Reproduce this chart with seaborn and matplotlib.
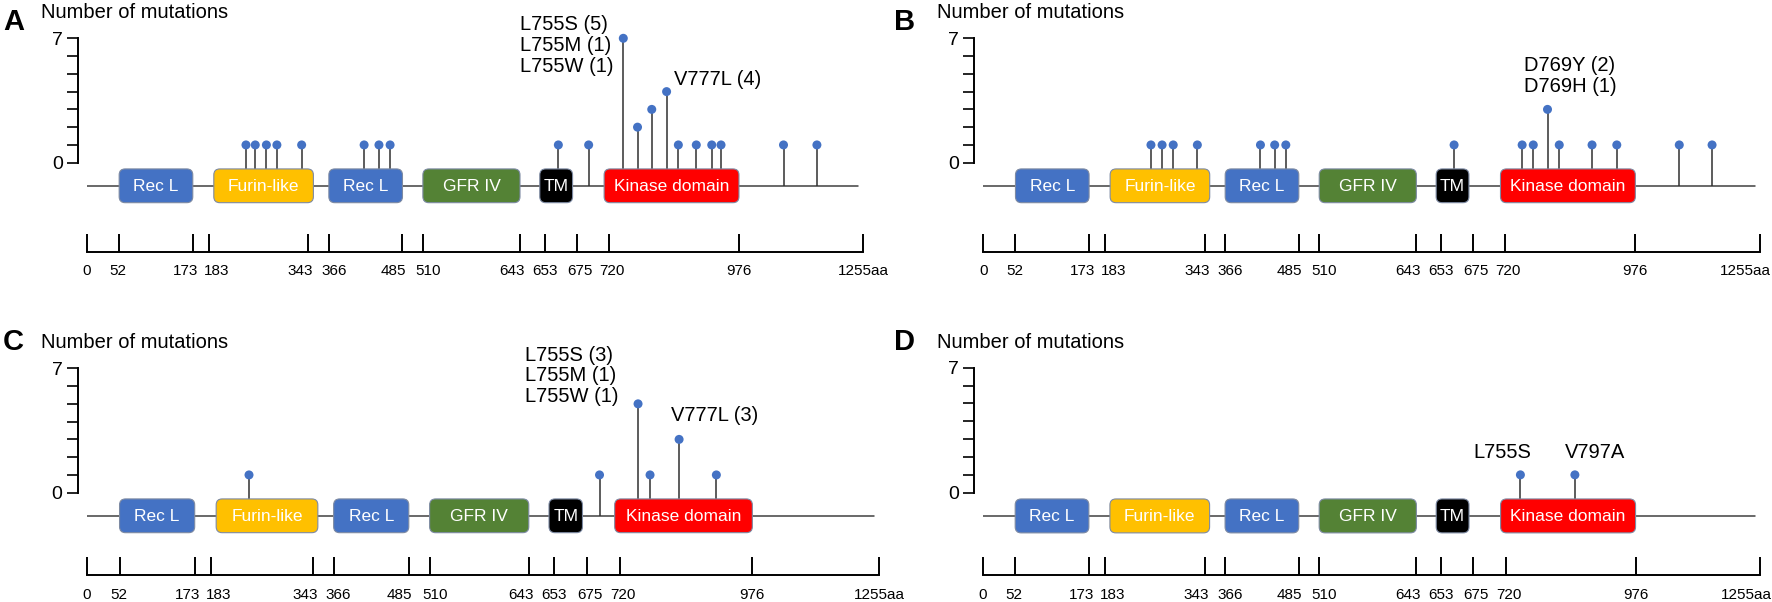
import numpy as np
import matplotlib
matplotlib.use("Agg")
import matplotlib.pyplot as plt
from matplotlib import font_manager
from matplotlib.patches import FancyBboxPatch
from matplotlib.transforms import ScaledTranslation
import seaborn as sns

# Ruler under each protein: aa labels and their place on the (non-linear) schematic
ruler_aa = [0, 52, 173, 183, 343, 366, 485, 510, 643, 653, 675, 720, 976, 1255]
ruler_pos = [0, 52, 171, 197, 358, 391, 510, 543, 700, 740, 792, 844, 1054, 1255]
ruler_labels = ["0", "52", "173", "183", "343", "366", "485", "510",
                "643", "653", "675", "720", "976", "1255aa"]

# Domains (aa start / end)
domain_names = ["Rec L", "Furin-like", "Rec L", "GFR IV", "TM", "Kinase domain"]
domain_start = [52, 183, 366, 510, 653, 720]
domain_end = [173, 343, 485, 643, 675, 976]
domain_colors = ["#4472C4", "#FFC000", "#4472C4", "#548235", "#000000", "#FF0000"]

# Mutations: schematic position and number of mutations
pos_a = [257, 272, 290, 307, 347, 448, 472, 490, 762, 811, 867, 890, 913, 937, 956, 985, 1010, 1025, 1126, 1180]
cnt_a = [1, 1, 1, 1, 1, 1, 1, 1, 1, 1, 7, 2, 3, 4, 1, 1, 1, 1, 1, 1]
pos_b = [271, 289, 307, 346, 448, 471, 489, 761, 871, 889, 912, 931, 984, 1024, 1125, 1178]
cnt_b = [1, 1, 1, 1, 1, 1, 1, 1, 1, 1, 3, 1, 1, 1, 1, 1]
pos_c = [257, 812, 873, 892, 938, 997]
cnt_c = [1, 1, 5, 1, 3, 1]
pos_d = [868, 956]
cnt_d = [1, 1]

# Labelled hotspots (index into the mutation lists)
labels_a = ["L755S (5)\nL755M (1)\nL755W (1)", "V777L (4)"]
label_idx_a = [10, 13]
labels_b = ["D769Y (2)\nD769H (1)"]
label_idx_b = [10]
labels_c = ["L755S (3)\nL755M (1)\nL755W (1)", "V777L (3)"]
label_idx_c = [2, 4]
labels_d = ["L755S", "V797A"]
label_idx_d = [0, 1]

sns.set_theme(style="ticks", rc={"axes.edgecolor": "black", "xtick.color": "black",
                                 "ytick.color": "black", "text.color": "black"})
plt.rcParams["font.family"] = ["Liberation Sans", "DejaVu Sans"]

# ruler numbers are set in a narrow face in the original
installed = {f.name for f in font_manager.fontManager.ttflist}
if "Liberation Sans Narrow" in installed:
    ruler_font = dict(family=["Liberation Sans Narrow", "DejaVu Sans"], size=12.3)
else:
    ruler_font = dict(family=["Liberation Sans", "DejaVu Sans"], size=11)

# small sideways nudges (px) so neighbouring ruler labels do not collide
ruler_nudge = [0, -1, -7, 8, -8, 5, -9, 5, -8, 0, 3, 3, 0, 0]

W, H = 1772, 602
fig = plt.figure(figsize=(W / 100, H / 100), dpi=100)

# panel geometry in figure pixels: left, right, y of 7, y of 0, y of ruler
panels = [
    dict(letter="A", pos=pos_a, cnt=cnt_a, labels=labels_a, idx=label_idx_a,
         geo=(87, 863.3, 38.3, 162.7, 251.7), letter_xy=(3, 30), title_xy=(41, 18.3),
         offs=[(-10, -7, "right"), (7, 12, "left")], last_nudge=0),
    dict(letter="B", pos=pos_b, cnt=cnt_b, labels=labels_b, idx=label_idx_b,
         geo=(983.3, 1759.7, 38.3, 162.7, 251.7), letter_xy=(894, 30), title_xy=(937, 18.3),
         offs=[(-24, 33, "left")], last_nudge=-14),
    dict(letter="C", pos=pos_c, cnt=cnt_c, labels=labels_c, idx=label_idx_c,
         geo=(86.7, 879.3, 368.3, 492.7, 575.3), letter_xy=(3, 350), title_xy=(41, 348.3),
         offs=[(-20, 28, "right"), (-8, 24, "left")], last_nudge=0),
    dict(letter="D", pos=pos_d, cnt=cnt_d, labels=labels_d, idx=label_idx_d,
         geo=(983, 1760, 367.7, 492.7, 575.3), letter_xy=(894, 350), title_xy=(937, 348.3),
         offs=[(-18, 22, "center"), (20, 22, "center")], last_nudge=-14),
]

backbone_y = -1.3
box_half = 0.95

for p in panels:
    left, right, top7, zero, spine = p["geo"]
    unit = (zero - top7) / 7
    ymin = -(spine - zero) / unit
    ax = fig.add_axes([left / W, 1 - spine / H, (right - left) / W, (spine - top7) / H])
    ax.set_xlim(0, 1255)
    ax.set_ylim(ymin, 7)

    # backbone and stems
    ax.plot([0, 1247], [backbone_y, backbone_y], color="#404040", lw=1.1, zorder=1)
    ax.vlines(p["pos"], backbone_y, p["cnt"], color="#303030", lw=1.1, zorder=2, clip_on=False)
    sns.scatterplot(x=p["pos"], y=p["cnt"], ax=ax, color="#4472C4", s=42,
                    edgecolor="none", zorder=5, clip_on=False)

    # domains
    xpp = 1255 / (right - left)
    ypp = (7 - ymin) / (spine - top7)
    for name, s, e, c in zip(domain_names, domain_start, domain_end, domain_colors):
        x0 = np.interp(s, ruler_aa, ruler_pos)
        x1 = np.interp(e, ruler_aa, ruler_pos)
        if name == "TM":
            x0 -= 8
            x1 -= 7
        elif name == "Kinase domain":
            x0 -= 8
        elif name == "Furin-like":
            x0 += 8
            x1 += 8
        box = FancyBboxPatch((x0, backbone_y - box_half), x1 - x0, 2 * box_half,
                             boxstyle=f"round,pad=0,rounding_size={6 * xpp}",
                             mutation_aspect=ypp / xpp,
                             facecolor=c, edgecolor="#7d8aa3", lw=0.8, zorder=3)
        ax.add_patch(box)
        ax.text((x0 + x1) / 2, backbone_y - 0.05, name, color="white", ha="center",
                va="center", fontsize=12.5, zorder=4)

    # hotspot labels
    for txt, i, (dx, dy, ha) in zip(p["labels"], p["idx"], p["offs"]):
        ax.annotate(txt, xy=(p["pos"][i], p["cnt"][i]), xytext=(dx, dy),
                    textcoords="offset pixels", ha=ha, va="center",
                    multialignment="left", fontsize=14.5, linespacing=1.12)

    # axes styling
    for side in ["top", "right"]:
        ax.spines[side].set_visible(False)
    ax.spines["left"].set_bounds(0, 7)
    ax.spines["left"].set_position(("outward", 6.5))
    ax.spines["left"].set_linewidth(1.4)
    ax.spines["bottom"].set_bounds(0, 1255)
    ax.spines["bottom"].set_linewidth(1.4)
    ax.set_yticks(range(8))
    ax.set_yticklabels(["0", "", "", "", "", "", "", "7"])
    ax.set_xticks(ruler_pos)
    ax.set_xticklabels(ruler_labels, fontdict=ruler_font)
    ax.tick_params(axis="y", direction="out", length=8, width=1.2, labelsize=14, pad=3)
    ax.tick_params(axis="x", direction="in", length=12.7, width=1.4, pad=9)
    ax.set_xlabel("")
    ax.set_ylabel("")

    nudges = ruler_nudge[:-1] + [p["last_nudge"]]
    for lab, dx in zip(ax.get_xticklabels(), nudges):
        lab.set_transform(lab.get_transform() + ScaledTranslation(dx / 100, 0, fig.dpi_scale_trans))

    lx, ly = p["letter_xy"]
    fig.text(lx / W, 1 - ly / H, p["letter"], fontsize=21, fontweight="bold",
             ha="left", va="baseline")
    tx, ty = p["title_xy"]
    fig.text(tx / W, 1 - ty / H, "Number of mutations", fontsize=14.5,
             ha="left", va="baseline")

fig.savefig("out.png", dpi=100)
